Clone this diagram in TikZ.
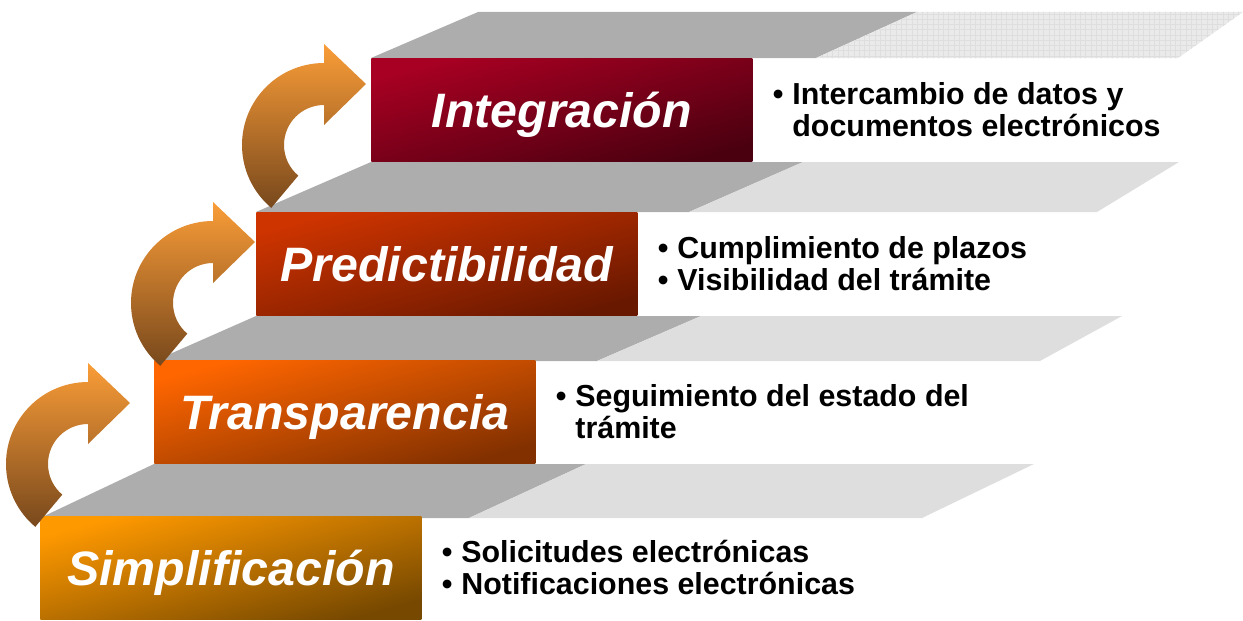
\documentclass[tikz,border=0pt]{standalone}
\usepackage{fontspec}
\setmainfont{Liberation Sans}
\usetikzlibrary{calc,patterns,positioning}
\definecolor{treadDark}{RGB}{173,173,173}
\definecolor{treadLight}{RGB}{222,222,222}
\definecolor{treadTop}{RGB}{234,234,234}
\definecolor{arrowTop}{RGB}{250,157,56}
\definecolor{arrowBot}{RGB}{120,72,28}
\definecolor{simpA}{RGB}{255,153,0}
\definecolor{simpB}{RGB}{118,72,0}
\definecolor{transA}{RGB}{255,102,0}
\definecolor{transB}{RGB}{130,48,0}
\definecolor{predA}{RGB}{206,52,0}
\definecolor{predB}{RGB}{105,24,0}
\definecolor{integA}{RGB}{168,0,34}
\definecolor{integB}{RGB}{75,0,16}
\def\bendarrow(#1,#2){\shade[top color=arrowTop, bottom color=arrowBot] ($(#1,#2)+(230:82)$) arc (230:90:82) -- ++(0,19) -- ++(42,-40) -- ++(-42,-41) -- ++(0,20) arc (90:230:40) -- cycle;}
\tikzset{
  stepbox/.style n args={2}{top color=#1, bottom color=#2, shading angle=15, anchor=south west,
    minimum width=7.62cm, minimum height=2.06cm, inner sep=0pt, text=white,
    font=\fontsize{27.5}{30}\selectfont\bfseries\itshape, text height=19.7pt, text depth=0pt},
  itemtext/.style={right=0.4cm of #1, yshift=-0.08cm, inner sep=0pt,
    font=\fontsize{17.3}{18.2}\selectfont\bfseries}
}

\begin{document}
\begin{tikzpicture}[x=0.02cm, y=0.02cm]
			%%%%% START %%%%%
			\useasboundingbox (0, 0) rectangle (1243, 620);
			
			% treads
			\fill[treadDark] (371, 562) -- (478, 608) -- (917, 608) -- (816, 562) -- cycle;
			\fill[treadTop] (816, 562) -- (917, 608) -- (1243, 608) -- (1178, 562) -- cycle;
			\fill[pattern=grid, pattern color=black!13] (816, 562) -- (917, 608) -- (1243, 608) -- (1178, 562) -- cycle;
			
			\fill[treadDark] (256, 408) -- (371, 458) -- (803, 458) -- (689, 408) -- cycle;
			\fill[treadLight] (689, 408) -- (803, 458) -- (1179, 458) -- (1097, 408) -- cycle;
			
			\fill[treadDark] (154, 259) -- (256, 304) -- (701, 304) -- (597, 259) -- cycle;
			\fill[treadLight] (597, 259) -- (701, 304) -- (1122, 304) -- (1040, 259) -- cycle;
			
			\fill[treadDark] (40, 102) -- (154, 156) -- (586, 156) -- (469, 102) -- cycle;
			\fill[treadLight] (469, 102) -- (586, 156) -- (1034, 156) -- (922, 102) -- cycle;
			
			% risers
			\node[stepbox={simpA}{simpB}] (simp) at (40, 0) {Simplificación};
			\node[stepbox={transA}{transB}] (trans) at (154, 156) {Transparencia};
			\node[stepbox={predA}{predB}] (pred) at (256, 304) {Predictibilidad};
			\node[stepbox={integA}{integB}] (integ) at (371, 458) {Integración};
			
			% arrows
			\bendarrow(88,156)
			\bendarrow(213,317)
			\bendarrow(324,475)
			
			% items
			\node[itemtext=simp] (simpText) {\begin{tabular}{@{}l@{\hspace{5pt}}l@{}}
				\textbullet & Solicitudes electrónicas\\
				\textbullet & Notificaciones electrónicas
			\end{tabular}};
			\node[itemtext=trans] (transText) {\begin{tabular}{@{}l@{\hspace{5pt}}l@{}}
				\textbullet & Seguimiento del estado del\\
				& trámite
			\end{tabular}};
			\node[itemtext=pred] (predText) {\begin{tabular}{@{}l@{\hspace{5pt}}l@{}}
				\textbullet & Cumplimiento de plazos\\
				\textbullet & Visibilidad del trámite
			\end{tabular}};
			\node[itemtext=integ] (integText) {\begin{tabular}{@{}l@{\hspace{5pt}}l@{}}
				\textbullet & Intercambio de datos y\\
				& documentos electrónicos
			\end{tabular}};
			
			%%%%% END %%%%%
\end{tikzpicture}
\end{document}
